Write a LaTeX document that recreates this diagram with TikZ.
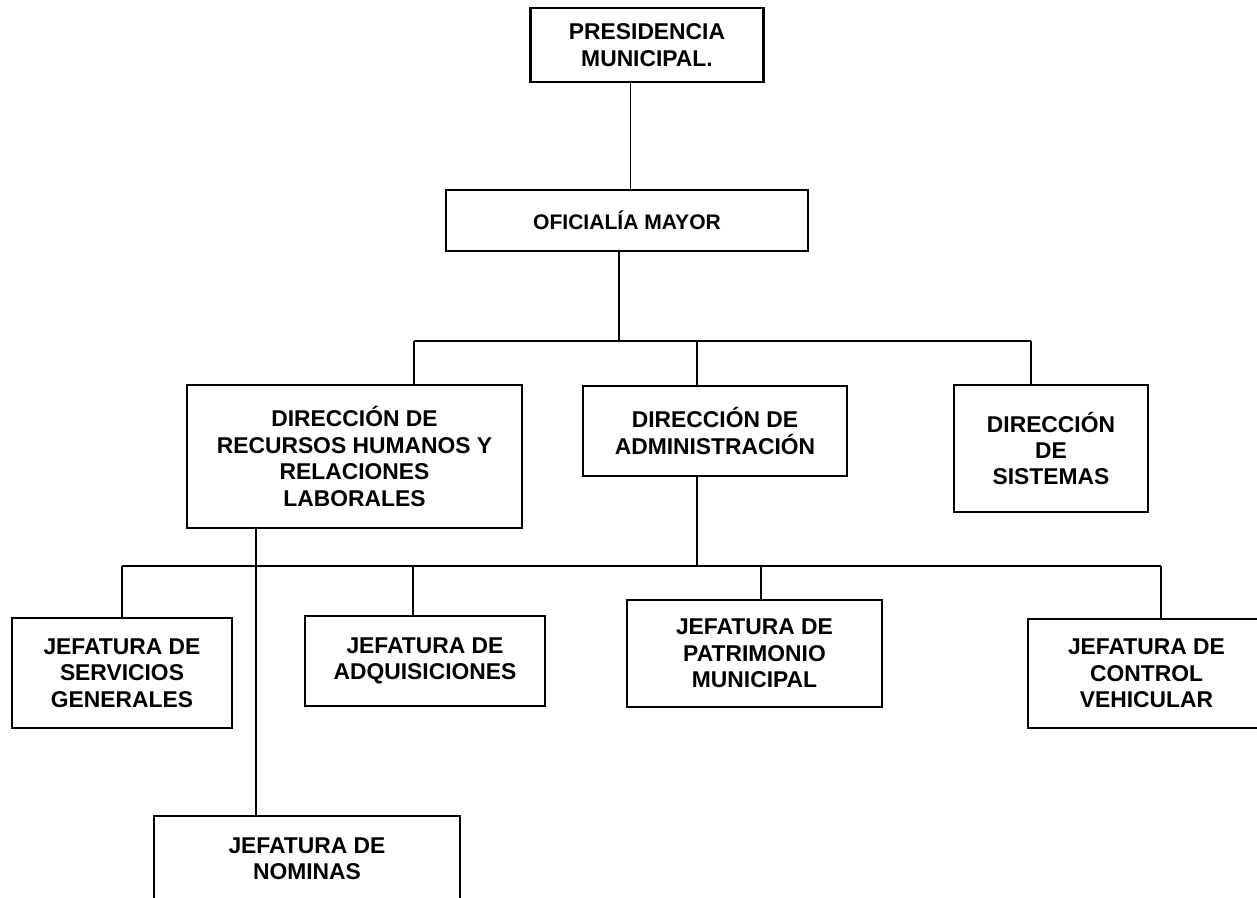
\documentclass[tikz,border=0pt]{standalone}
\usepackage{fontspec}
\setmainfont{Liberation Sans}
\usepackage{tikz}
\usetikzlibrary{positioning,calc}

\begin{document}
\begin{tikzpicture}[x=0.02cm, y=-0.02cm,
		caja/.style={draw, line width=1.4pt, align=center, inner sep=2pt,
			font=\bfseries\fontsize{13}{15}\selectfont},
		linea/.style={line width=0.9pt}]
		\useasboundingbox (0,0) rectangle (1257,898);
		\clip (0,0) rectangle (1257,898);
		% nivel 1 y 2
		\node[caja, minimum width=4.66cm, minimum height=1.48cm] (pres) at (647,45) {PRESIDENCIA\\MUNICIPAL.};
		\node[caja, minimum width=7.24cm, minimum height=1.22cm, font=\bfseries\fontsize{12}{14}\selectfont] (ofi) at (627,220.5) {OFICIALÍA MAYOR};
		% direcciones
		\node[caja, minimum width=6.7cm, minimum height=2.86cm] (drh) at (354.5,456.5) {DIRECCIÓN DE\\RECURSOS HUMANOS Y\\RELACIONES\\LABORALES};
		\node[caja, minimum width=5.28cm, minimum height=1.8cm] (da) at (715,431) {DIRECCIÓN DE\\ADMINISTRACIÓN};
		\node[caja, minimum width=3.88cm, minimum height=2.54cm] (ds) at (1051,448.5) {DIRECCIÓN\\DE\\SISTEMAS};
		% jefaturas
		\node[caja, minimum width=4.4cm, minimum height=2.2cm] (jsg) at (122,673) {JEFATURA DE\\SERVICIOS\\GENERALES};
		\node[caja, minimum width=4.8cm, minimum height=1.8cm] (ja) at (425,661) {JEFATURA DE\\ADQUISICIONES};
		\node[caja, minimum width=5.1cm, minimum height=2.14cm] (jp) at (754.5,653.5) {JEFATURA DE\\PATRIMONIO\\MUNICIPAL};
		\node[caja, minimum width=4.74cm, minimum height=2.18cm] (jcv) at (1146.5,673.5) {JEFATURA DE\\CONTROL\\VEHICULAR};
		\node[caja, minimum width=6.12cm, minimum height=1.72cm] (nom) at (307,859) {JEFATURA DE\\NOMINAS};
		% puntos de las lineas
		\coordinate (b1) at (414,341);
		\coordinate (b2) at (1031,341);
		\coordinate (b0) at (619,341);
		\coordinate (b3) at (697,341);
		\coordinate (c1) at (122,566);
		\coordinate (c2) at (1161,566);
		\coordinate (c0) at (697,566);
		\coordinate (c3) at (413,566);
		\coordinate (c4) at (761,566);
		\coordinate (r1) at (256,566);
		% lineas
		\draw[line width=0.5pt] (ofi.north -| 630,0) -- (pres.south -| 630,0);
		\draw[linea] (ofi.south -| b0) -- (b0);
		\draw[linea] (b1) -- (b2);
		\draw[linea] (b1) -- (b1 |- drh.north);
		\draw[linea] (b3) -- (b3 |- da.north);
		\draw[linea] (b2) -- (b2 |- ds.north);
		\draw[line width=1.1pt] (c0 |- da.south) -- (c0);
		\draw[linea] (c1) -- (c2);
		\draw[linea] (c1) -- (c1 |- jsg.north);
		\draw[linea] (c3) -- (c3 |- ja.north);
		\draw[linea] (c4) -- (c4 |- jp.north);
		\draw[linea] (c2) -- (c2 |- jcv.north);
		\draw[linea] (r1 |- drh.south) -- (r1 |- nom.north);
	\end{tikzpicture}
\end{document}
